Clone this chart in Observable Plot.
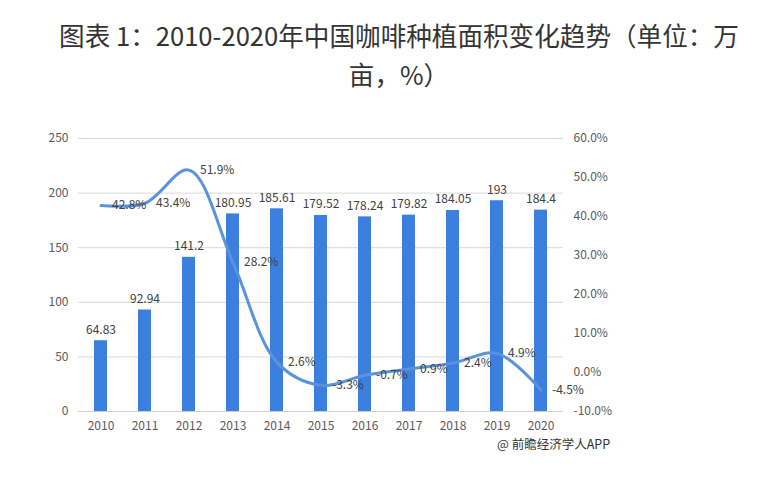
<!DOCTYPE html>
<html><head><meta charset="utf-8">
<script src="https://cdn.jsdelivr.net/npm/d3@7"></script>
<script src="https://cdn.jsdelivr.net/npm/@observablehq/plot@0.6"></script>
<style>
body{margin:0;background:#fff;font-family:"Noto Sans CJK SC","Noto Sans",sans-serif;}
#title{height:110px;box-sizing:border-box;padding-top:15px;padding-left:38px;text-align:center;font-size:25.6px;line-height:39px;color:#333;}
#caption{font-size:12.5px;color:#333;padding-left:497px;margin-top:-4px;line-height:16px;}
</style></head><body>
<div id="title">图表 1：2010-2020年中国咖啡种植面积变化趋势（单位：万<br>亩，%）</div>
<div id="chart"></div>
<div id="caption">@ 前瞻经济学人APP</div>
<script>
const years = ["2010","2011","2012","2013","2014","2015","2016","2017","2018","2019","2020"];
const area = [64.83, 92.94, 141.2, 180.95, 185.61, 179.52, 178.24, 179.82, 184.05, 193, 184.4];
const growth = [42.8, 43.4, 51.9, 28.2, 2.6, -3.3, -0.7, 0.9, 2.4, 4.9, -4.5];
const leftTicks = [0, 50, 100, 150, 200, 250];
const rightTicks = [-10, 0, 10, 20, 30, 40, 50, 60];

const toLeft = d3.scaleLinear([-10, 60], [0, 250]);
const data = years.map((y, i) => ({year: y, area: area[i], growth: growth[i], g: toLeft(growth[i])}));

const chart = Plot.plot({
  width: 760, height: 330,
  marginTop: 28, marginBottom: 29, marginLeft: 78, marginRight: 197,
  style: {fontFamily: '"Noto Sans CJK SC","Noto Sans",sans-serif', fontSize: "12px", color: "#595959", background: "white"},
  x: {domain: years, paddingInner: 0.7, paddingOuter: 0.35, label: null},
  y: {domain: [0, 250], label: null},
  marks: [
    Plot.gridY(leftTicks, {stroke: "#d9d9d9", strokeOpacity: 1}),
    Plot.ruleY([0], {stroke: "#d0d0d0"}),
    Plot.barY(data, {x: "year", y: "area", fill: "#3d7fde"}),
    Plot.text(data, {x: "year", y: "area", text: d => String(d.area), dy: -11, fill: "#404040"}),
    Plot.line(data, {x: "year", y: "g", curve: "catmull-rom", stroke: "#5a93dc", strokeWidth: 3}),
    Plot.text(data, {x: "year", y: "g", text: d => d.growth.toFixed(1) + "%", textAnchor: "start", dx: 11, fill: "#404040"}),
    Plot.axisY(leftTicks, {anchor: "left", tickSize: 0, tickPadding: 10, label: null}),
    Plot.axisY(rightTicks.map(toLeft), {anchor: "right", tickSize: 0, tickPadding: 10, label: null,
      tickFormat: d => (Math.round(toLeft.invert(d) * 10) / 10 + 0).toFixed(1) + "%"}),
    Plot.axisX({tickSize: 0, tickPadding: 10, label: null})
  ]
});
document.getElementById("chart").append(chart);
</script>
</body></html>
